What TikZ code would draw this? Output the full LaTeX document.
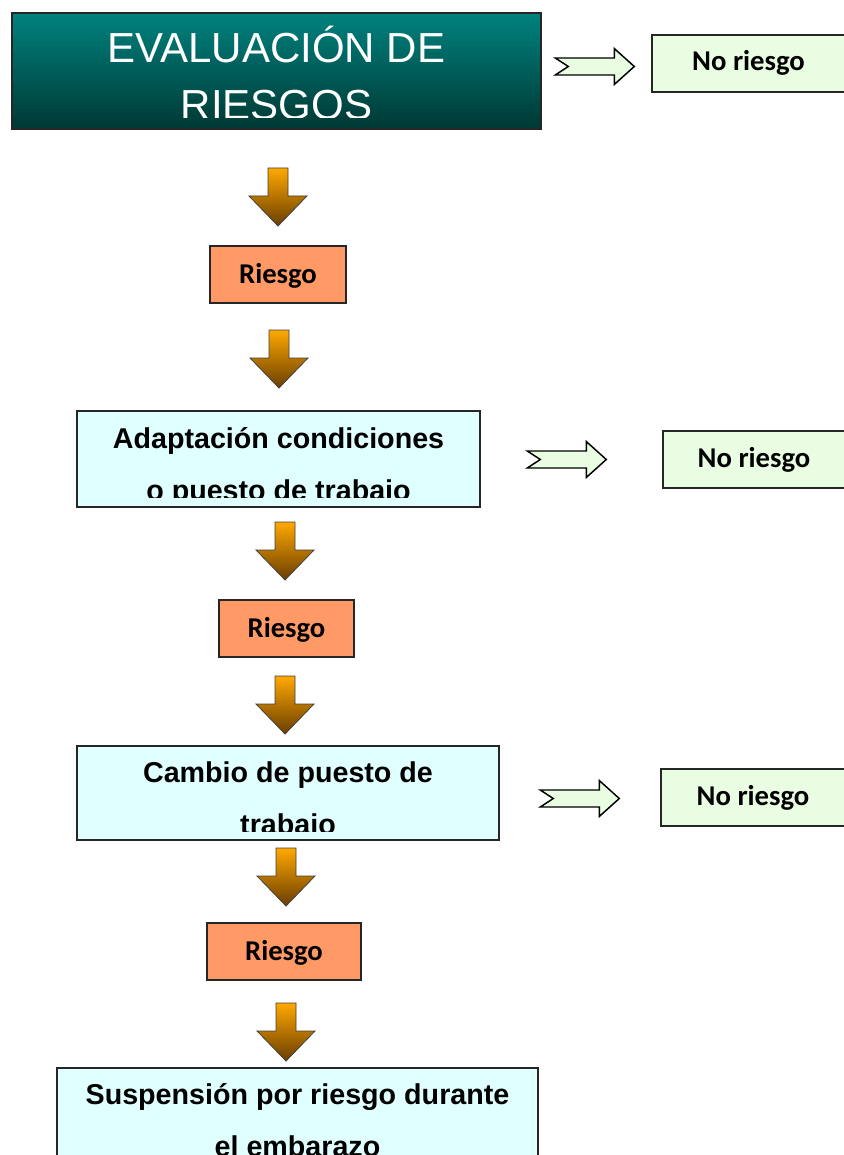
\documentclass[tikz,border=0pt]{standalone}
\usepackage{fontspec}
\setmainfont{Liberation Sans}
\newfontfamily\calfont{Carlito}
\usetikzlibrary{fit,calc}
\definecolor{tealtop}{RGB}{0,130,126}
\definecolor{tealbot}{RGB}{0,56,52}
\definecolor{riesgofill}{RGB}{255,153,102}
\definecolor{noriesgofill}{RGB}{232,253,225}
\definecolor{bluefill}{RGB}{224,255,255}
\definecolor{orangetop}{RGB}{255,168,0}
\definecolor{brownbot}{RGB}{105,62,0}
\tikzset{
  boxbase/.style={rectangle, inner sep=0pt, draw=black!85, line width=1.1pt},
  titlebox/.style={boxbase, top color=tealtop, bottom color=tealbot},
  riesgobox/.style={boxbase, fill=riesgofill},
  noriesgobox/.style={boxbase, fill=noriesgofill},
  bluebox/.style={boxbase, fill=bluefill},
  titletext/.style={anchor=base, inner sep=0pt, text=white, font=\fontsize{31.5}{36}\selectfont},
  bluetext/.style={anchor=base, inner sep=0pt, font=\fontsize{21.5}{25}\selectfont\bfseries},
  caltext/.style={anchor=base, inner sep=0pt, font=\calfont\fontsize{21.5}{25}\selectfont\bfseries},
  darrowstyle/.style={top color=orangetop, bottom color=brownbot, draw=black!75, line width=0.6pt, line join=miter},
  rarrowstyle/.style={fill=noriesgofill, draw=black, line width=1.1pt, line join=miter},
  darrow/.pic={\draw[darrowstyle] (-10,0) -- (10,0) -- (10,28) -- (29,28) -- (0,58) -- (-29,28) -- (-10,28) -- cycle;},
  rarrow/.pic={\draw[rarrowstyle] (0,-8.5) -- (59,-8.5) -- (59,-18) -- (79,0) -- (59,18) -- (59,8.5) -- (0,8.5) -- (13,0) -- cycle;}
}
\begin{document}
\begin{tikzpicture}[x=0.75pt,y=-0.75pt]
\useasboundingbox (0,0) rectangle (843,1155);

% title
\node[titlebox, fit={(12,13) (541,129)}] (title) {};
\begin{scope}
  \clip (14,15) rectangle (539,118);
  \node[titletext] (t1) at (276.5,63) {EVALUACIÓN DE};
  \node[titletext] (t2) at (276.5,120) {RIESGOS};
\end{scope}

% no riesgo boxes
\node[noriesgobox, fit={(652,35) (845,92)}] (n1) {};
\node[caltext] (n1t) at ($(n1.center)+(0,7.5)$) {No riesgo};
\node[noriesgobox, fit={(663,431) (845,488)}] (n2) {};
\node[caltext] (n2t) at ($(n2.center)+(0,7.5)$) {No riesgo};
\node[noriesgobox, fit={(661,769) (845,826)}] (n3) {};
\node[caltext] (n3t) at ($(n3.center)+(0,7.5)$) {No riesgo};

% right arrows
\pic at ($(n1.west)+(-96,3)$) {rarrow};
\pic at ($(n2.west)+(-135,0)$) {rarrow};
\pic at ($(n3.west)+(-120,1)$) {rarrow};

% riesgo boxes
\node[riesgobox, fit={(210,246) (346,303)}] (r1) {};
\node[caltext] (r1t) at ($(r1.center)+(0,9)$) {Riesgo};
\node[riesgobox, fit={(219,600) (354,657)}] (r2) {};
\node[caltext] (r2t) at ($(r2.center)+(0,9)$) {Riesgo};
\node[riesgobox, fit={(207,923) (361,980)}] (r3) {};
\node[caltext] (r3t) at ($(r3.center)+(0,9)$) {Riesgo};

% blue boxes
\node[bluebox, fit={(77,411) (480,507)}] (adapt) {};
\begin{scope}
  \clip (79,413) rectangle (478,497);
  \node[bluetext] (a1) at (278.5,448) {Adaptación condiciones};
  \node[bluetext] (a2) at (278.5,500) {o puesto de trabajo};
\end{scope}

\node[bluebox, fit={(77,746) (499,840)}] (cambio) {};
\begin{scope}
  \clip (79,748) rectangle (497,831);
  \node[bluetext] (c1) at (288,782) {Cambio de puesto de};
  \node[bluetext] (c2) at (288,834) {trabajo};
\end{scope}

\node[bluebox, fit={(57,1068) (538,1170)}] (susp) {};
\node[bluetext] (s1) at (297.5,1104) {Suspensión por riesgo durante};
\node[bluetext] (s2) at (297.5,1156) {el embarazo};

% down arrows
\pic at (278,168) {darrow};
\pic at (279,330) {darrow};
\pic at (285,522) {darrow};
\pic at (285,676) {darrow};
\pic at (286,848) {darrow};
\pic at (286,1003) {darrow};
\end{tikzpicture}
\end{document}
